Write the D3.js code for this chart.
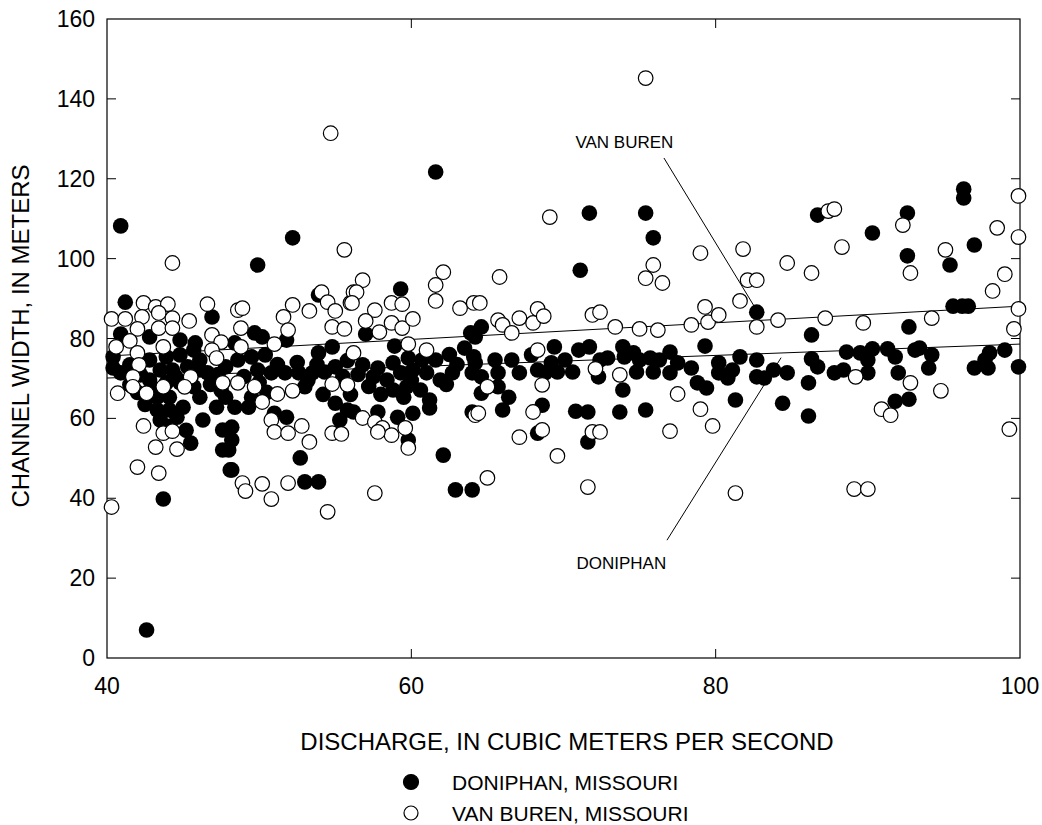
<!DOCTYPE html>
<html><head><meta charset="utf-8">
<script src="https://cdn.jsdelivr.net/npm/d3@7"></script>
<style>body{margin:0;background:#fff}text{font-family:"Liberation Sans",Arial,sans-serif}</style>
</head><body><svg id="c" width="1042" height="825"></svg>
<script>
const xTicks=[40,60,80,100];
const yTicks=[0,20,40,60,80,100,120,140,160];
const seriesNames=["DONIPHAN, MISSOURI","VAN BUREN, MISSOURI"];
const xTitle="DISCHARGE, IN CUBIC METERS PER SECOND";
const yTitle="CHANNEL WIDTH, IN METERS";
// Doniphan (filled) [discharge, width]
const doniphan=[
[40.9,108.2],[42.6,7.0],[43.7,39.8],[52.2,105.2],[49.9,98.4],[61.6,121.7],[71.7,111.4],[71.1,97.1],[75.4,111.4],[75.9,105.2],
[86.7,110.9],[90.3,106.4],[92.6,111.4],[92.6,100.7],[96.3,117.4],[96.3,115.2],[97.0,103.4],[95.4,98.4],[41.2,89.1],[59.3,92.4],[53.9,90.9],
[46.9,85.4],[40.9,81.1],[42.8,80.4],[44.8,79.6],[45.8,78.9],[40.4,75.4],[40.4,72.6],[40.9,71.4],[42.8,74.6],[43.9,75.4],[44.8,75.9],
[45.7,77.1],[46.1,74.6],[43.5,72.1],[44.3,72.1],[45.3,72.9],[46.1,72.1],[46.6,71.4],[42.8,69.6],[43.9,68.9],[44.8,68.9],[45.7,67.9],
[46.1,65.3],[43.3,65.3],[44.1,65.3],[43.3,62.1],[44.1,62.1],[45.0,62.8],[43.5,59.6],[44.6,60.3],[47.2,62.8],[46.3,59.6],[47.6,57.1],
[47.6,52.1],[45.5,53.8],[48.1,47.1],[41.5,73.4],[42.2,70.9],[41.5,68.4],[42.0,66.5],[43.0,67.5],[44.5,70.5],[45.5,70.0],[46.8,68.5],
[47.5,67.0],[42.5,63.5],[45.2,57.0],[44.0,58.0],
[49.7,81.4],[50.2,80.4],[48.4,78.9],[51.8,79.6],[53.9,76.4],[54.8,77.9],[47.8,72.9],[48.6,74.6],[49.5,75.4],[50.4,75.9],[49.9,72.1],
[50.8,71.4],[51.7,71.4],[52.6,71.4],[53.5,71.4],[54.3,71.6],[55.0,72.9],[53.0,67.9],[47.8,65.3],[48.4,62.8],[49.3,62.8],[49.5,65.3],
[51.0,61.3],[51.8,60.3],[55.0,63.8],[55.8,62.1],[55.3,59.6],[48.2,57.8],[48.2,54.6],[48.0,52.1],[52.7,50.1],[48.2,47.1],[53.0,44.1],
[53.9,44.1],[47.0,69.5],[50.0,69.0],[53.2,69.5],[55.5,70.5],
[47.3,71.0],[49.0,70.5],[51.2,73.5],[52.5,74.0],[53.8,73.5],[55.8,74.5],[56.5,71.0],[57.2,68.0],[58.0,66.0],[60.0,69.5],[62.3,68.5],
[63.0,73.5],[62.5,76.0],[56.0,66.0],[54.2,66.0],[50.5,66.5],
[57.0,81.1],[58.9,78.1],[63.9,81.4],[63.5,77.6],[64.1,75.4],[64.0,71.4],[56.8,73.4],[57.8,72.6],[58.8,73.9],[59.8,75.1],[60.7,74.6],
[61.6,74.6],[57.5,70.4],[58.4,69.6],[59.3,71.4],[60.1,72.1],[61.0,71.4],[61.9,69.6],[62.7,71.4],[58.8,67.1],[59.7,67.9],[60.6,67.1],
[61.2,64.6],[61.2,62.6],[59.5,65.3],[56.2,61.6],[57.8,61.6],[59.1,60.3],[60.1,61.3],[59.8,54.6],[62.1,50.8],[62.9,42.1],[64.0,42.1],[64.0,61.6],
[64.6,82.9],[64.2,80.4],[64.2,73.9],[65.5,74.6],[66.6,74.6],[64.6,70.4],[65.7,71.4],[67.1,71.4],[67.9,75.9],[69.4,77.9],[69.2,73.9],
[70.1,74.6],[71.0,77.1],[71.7,77.9],[72.4,74.6],[70.6,71.6],[69.6,71.6],[68.8,71.4],[68.3,72.1],[65.7,67.9],[64.6,66.3],[66.4,65.3],
[66.0,62.1],[68.6,63.3],[70.8,61.8],[71.6,61.6],[68.3,56.3],[71.6,54.1],[72.3,70.4],
[82.7,86.6],[79.3,78.1],[72.9,75.1],[73.9,77.9],[74.6,76.4],[74.0,75.4],[75.0,74.6],[75.7,75.1],[76.3,74.6],[77.0,76.6],[77.5,73.9],
[78.4,72.6],[74.8,71.6],[75.9,71.6],[77.0,71.4],[80.2,73.9],[80.2,71.4],[81.6,75.4],[81.1,72.1],[80.8,70.1],[82.7,74.6],[82.7,70.4],
[78.8,68.9],[79.4,67.6],[73.9,67.1],[81.3,64.6],[73.7,61.6],[75.4,62.1],
[86.3,80.9],[92.7,82.9],[86.3,74.9],[86.7,72.9],[88.6,76.6],[89.5,76.4],[90.3,77.4],[90.0,74.6],[91.3,77.4],[91.8,75.4],[87.8,71.4],
[88.4,72.1],[90.0,71.4],[92.0,71.4],[83.8,72.1],[83.2,70.1],[84.7,71.4],[86.1,68.9],[84.4,63.8],[86.1,60.6],[91.8,64.3],[92.7,64.8],[93.1,77.1],
[95.6,88.1],[96.2,88.1],[96.6,88.1],[93.4,77.6],[94.2,75.9],[94.0,72.6],[98.0,76.4],[99.0,77.1],[97.7,74.6],[97.0,72.6],[97.9,72.6],[99.9,72.9]
];
// Van Buren (open) [discharge, width]
const vanBuren=[
[75.4,145.2],[54.7,131.4],[69.1,110.4],[55.6,102.2],[44.3,98.9],[40.3,37.8],[54.5,36.6],
[42.4,88.9],[43.2,87.9],[44.0,88.6],[43.4,86.4],[40.3,84.9],[41.2,84.9],[42.3,85.4],[44.3,85.1],[45.4,84.4],[46.6,88.6],[42.0,82.4],
[43.4,82.6],[44.3,82.6],[46.9,80.9],[47.5,79.1],[41.5,79.4],[40.6,77.9],[43.7,77.9],[42.0,76.4],[46.9,77.1],[47.2,75.1],[42.1,73.4],
[41.7,70.4],[41.7,67.9],[40.7,66.3],[42.6,66.3],[43.7,67.9],[45.5,70.4],[45.1,67.9],[47.6,68.9],[42.4,58.1],[43.7,56.3],[44.3,56.8],
[43.2,52.8],[44.6,52.3],[42.0,47.8],[43.4,46.3],
[54.1,91.6],[54.5,89.1],[52.2,88.4],[53.3,86.9],[55.0,86.9],[56.0,88.9],[56.2,91.6],[48.6,87.1],[48.9,87.6],[51.6,85.4],[51.9,82.1],
[54.8,82.9],[55.6,82.4],[48.8,82.6],[51.0,78.6],[48.8,77.9],[48.6,68.9],[49.7,67.9],[52.2,66.9],[51.2,66.1],[50.2,64.1],[54.8,68.6],
[55.8,68.4],[50.8,59.6],[51.0,56.6],[51.9,56.3],[52.8,58.1],[53.3,54.1],[54.8,56.3],[55.4,56.1],[48.9,43.8],[49.1,41.8],[50.2,43.6],
[51.9,43.8],[50.8,39.8],
[62.1,96.6],[61.6,93.4],[61.6,89.4],[63.2,87.6],[64.1,88.9],[56.8,94.6],[56.4,91.6],[56.1,88.9],[57.6,87.1],[57.0,84.4],[57.9,81.6],
[58.7,88.9],[59.4,88.6],[58.7,83.9],[59.4,82.6],[60.1,84.9],[59.8,78.6],[61.0,77.1],[56.2,76.4],[56.8,60.1],[57.6,59.1],[58.1,57.6],
[58.7,55.8],[57.8,56.6],[59.6,57.6],[59.8,52.6],[57.6,41.3],[64.2,60.8],
[65.8,95.4],[64.5,88.9],[65.7,84.6],[66.0,83.4],[66.6,81.4],[67.1,85.1],[68.0,83.9],[68.3,87.4],[68.7,85.6],[71.9,85.9],[72.4,86.6],
[68.3,77.1],[68.6,68.4],[65.0,67.9],[64.4,61.3],[68.0,61.6],[67.1,55.3],[68.6,57.1],[71.9,56.6],[69.6,50.6],[65.0,45.1],[71.6,42.8],[72.1,72.4],
[79.0,101.4],[81.8,102.4],[75.9,98.4],[75.4,95.1],[76.5,93.9],[82.1,94.6],[82.7,94.6],[73.4,82.9],[75.0,82.4],[76.2,82.1],[78.4,83.4],
[79.3,87.9],[79.5,84.1],[80.2,85.9],[81.6,89.4],[82.7,82.9],[73.7,70.9],[77.5,66.1],[79.0,62.3],[79.8,58.1],[77.0,56.8],[81.3,41.3],[72.4,56.6],
[87.4,111.9],[87.8,112.4],[92.3,108.4],[88.3,102.9],[92.8,96.4],[84.7,98.9],[86.3,96.4],[84.1,84.6],[87.2,85.1],[89.7,83.9],[89.2,70.4],
[90.9,62.3],[91.5,60.8],[92.8,68.9],[89.1,42.3],[90.0,42.3],
[99.9,115.7],[98.5,107.7],[99.9,105.4],[95.1,102.2],[99.0,96.1],[98.2,91.9],[99.9,87.4],[94.2,85.1],[99.6,82.4],[94.8,66.9],[99.3,57.3]
];
// regression lines (endpoints) and annotation labels
const vanBurenFit=[[40,75.6],[100,88.1]];
const doniphanFit=[[40,70.1],[100,78.6]];
const labels=[{text:"VAN BUREN",x:74.0,y:129.3,to:[82.8,86.4],from:[76.6,125.2]},
              {text:"DONIPHAN",x:73.8,y:23.8,to:[84.3,75.2],from:[76.8,29.5]}];

const svg=d3.select("#c");
const L=107,R=1020,T=19,B=658;
const x=d3.scaleLinear().domain([40,100]).range([L,R]);
const y=d3.scaleLinear().domain([0,160]).range([B,T]);

svg.append("rect").attr("x",L).attr("y",T).attr("width",R-L).attr("height",B-T)
  .attr("fill","none").attr("stroke","#000").attr("stroke-width",1.2);

const tl=9;
const g=svg.append("g");
g.selectAll(".xb").data(xTicks.slice(1,-1)).join("line").attr("x1",d=>x(d)).attr("x2",d=>x(d)).attr("y1",B).attr("y2",B-tl).attr("stroke","#000");
g.selectAll(".xt").data(xTicks.slice(1,-1)).join("line").attr("x1",d=>x(d)).attr("x2",d=>x(d)).attr("y1",T).attr("y2",T+tl).attr("stroke","#000");
g.selectAll(".yl").data(yTicks.slice(1,-1)).join("line").attr("x1",L).attr("x2",L+tl).attr("y1",d=>y(d)).attr("y2",d=>y(d)).attr("stroke","#000");
g.selectAll(".yr").data(yTicks.slice(1,-1)).join("line").attr("x1",R).attr("x2",R-tl).attr("y1",d=>y(d)).attr("y2",d=>y(d)).attr("stroke","#000");

svg.selectAll(".xl").data(xTicks).join("text").attr("x",d=>x(d)).attr("y",B+36).attr("text-anchor","middle")
  .attr("font-size",23).text(d=>d);
svg.selectAll(".ylab").data(yTicks).join("text").attr("x",L-12).attr("y",d=>y(d)+8).attr("text-anchor","end")
  .attr("font-size",23).text(d=>d);

svg.append("text").attr("transform","translate(29,336) rotate(-90)").attr("text-anchor","middle")
  .attr("font-size",24).text(yTitle);
svg.append("text").attr("x",567).attr("y",750).attr("text-anchor","middle").attr("font-size",24).text(xTitle);

const line=d3.line().x(d=>x(d[0])).y(d=>y(d[1]));
[vanBurenFit,doniphanFit].forEach(f=>svg.append("path").attr("d",line(f)).attr("fill","none").attr("stroke","#000").attr("stroke-width",1));

svg.append("g").selectAll("circle").data(doniphan).join("circle")
  .attr("cx",d=>x(d[0])).attr("cy",d=>y(d[1])).attr("r",7.8).attr("fill","#000");
svg.append("g").selectAll("circle").data(vanBuren).join("circle")
  .attr("cx",d=>x(d[0])).attr("cy",d=>y(d[1])).attr("r",7.3).attr("fill","#fff").attr("stroke","#000").attr("stroke-width",1.2);

labels.forEach(l=>{
  svg.append("text").attr("x",x(l.x)).attr("y",y(l.y)+6).attr("text-anchor","middle").attr("font-size",17).text(l.text);
  svg.append("line").attr("x1",x(l.from[0])).attr("y1",y(l.from[1])).attr("x2",x(l.to[0])).attr("y2",y(l.to[1])).attr("stroke","#000").attr("stroke-width",1);
});

const lg=svg.append("g");
seriesNames.forEach((n,i)=>{
  const yy=782+i*31;
  lg.append("circle").attr("cx",411).attr("cy",yy).attr("r",i?7:7.5).attr("fill",i?"#fff":"#000").attr("stroke","#000").attr("stroke-width",1.2);
  lg.append("text").attr("x",452).attr("y",yy+8).attr("font-size",21).text(n);
});
</script></body></html>
